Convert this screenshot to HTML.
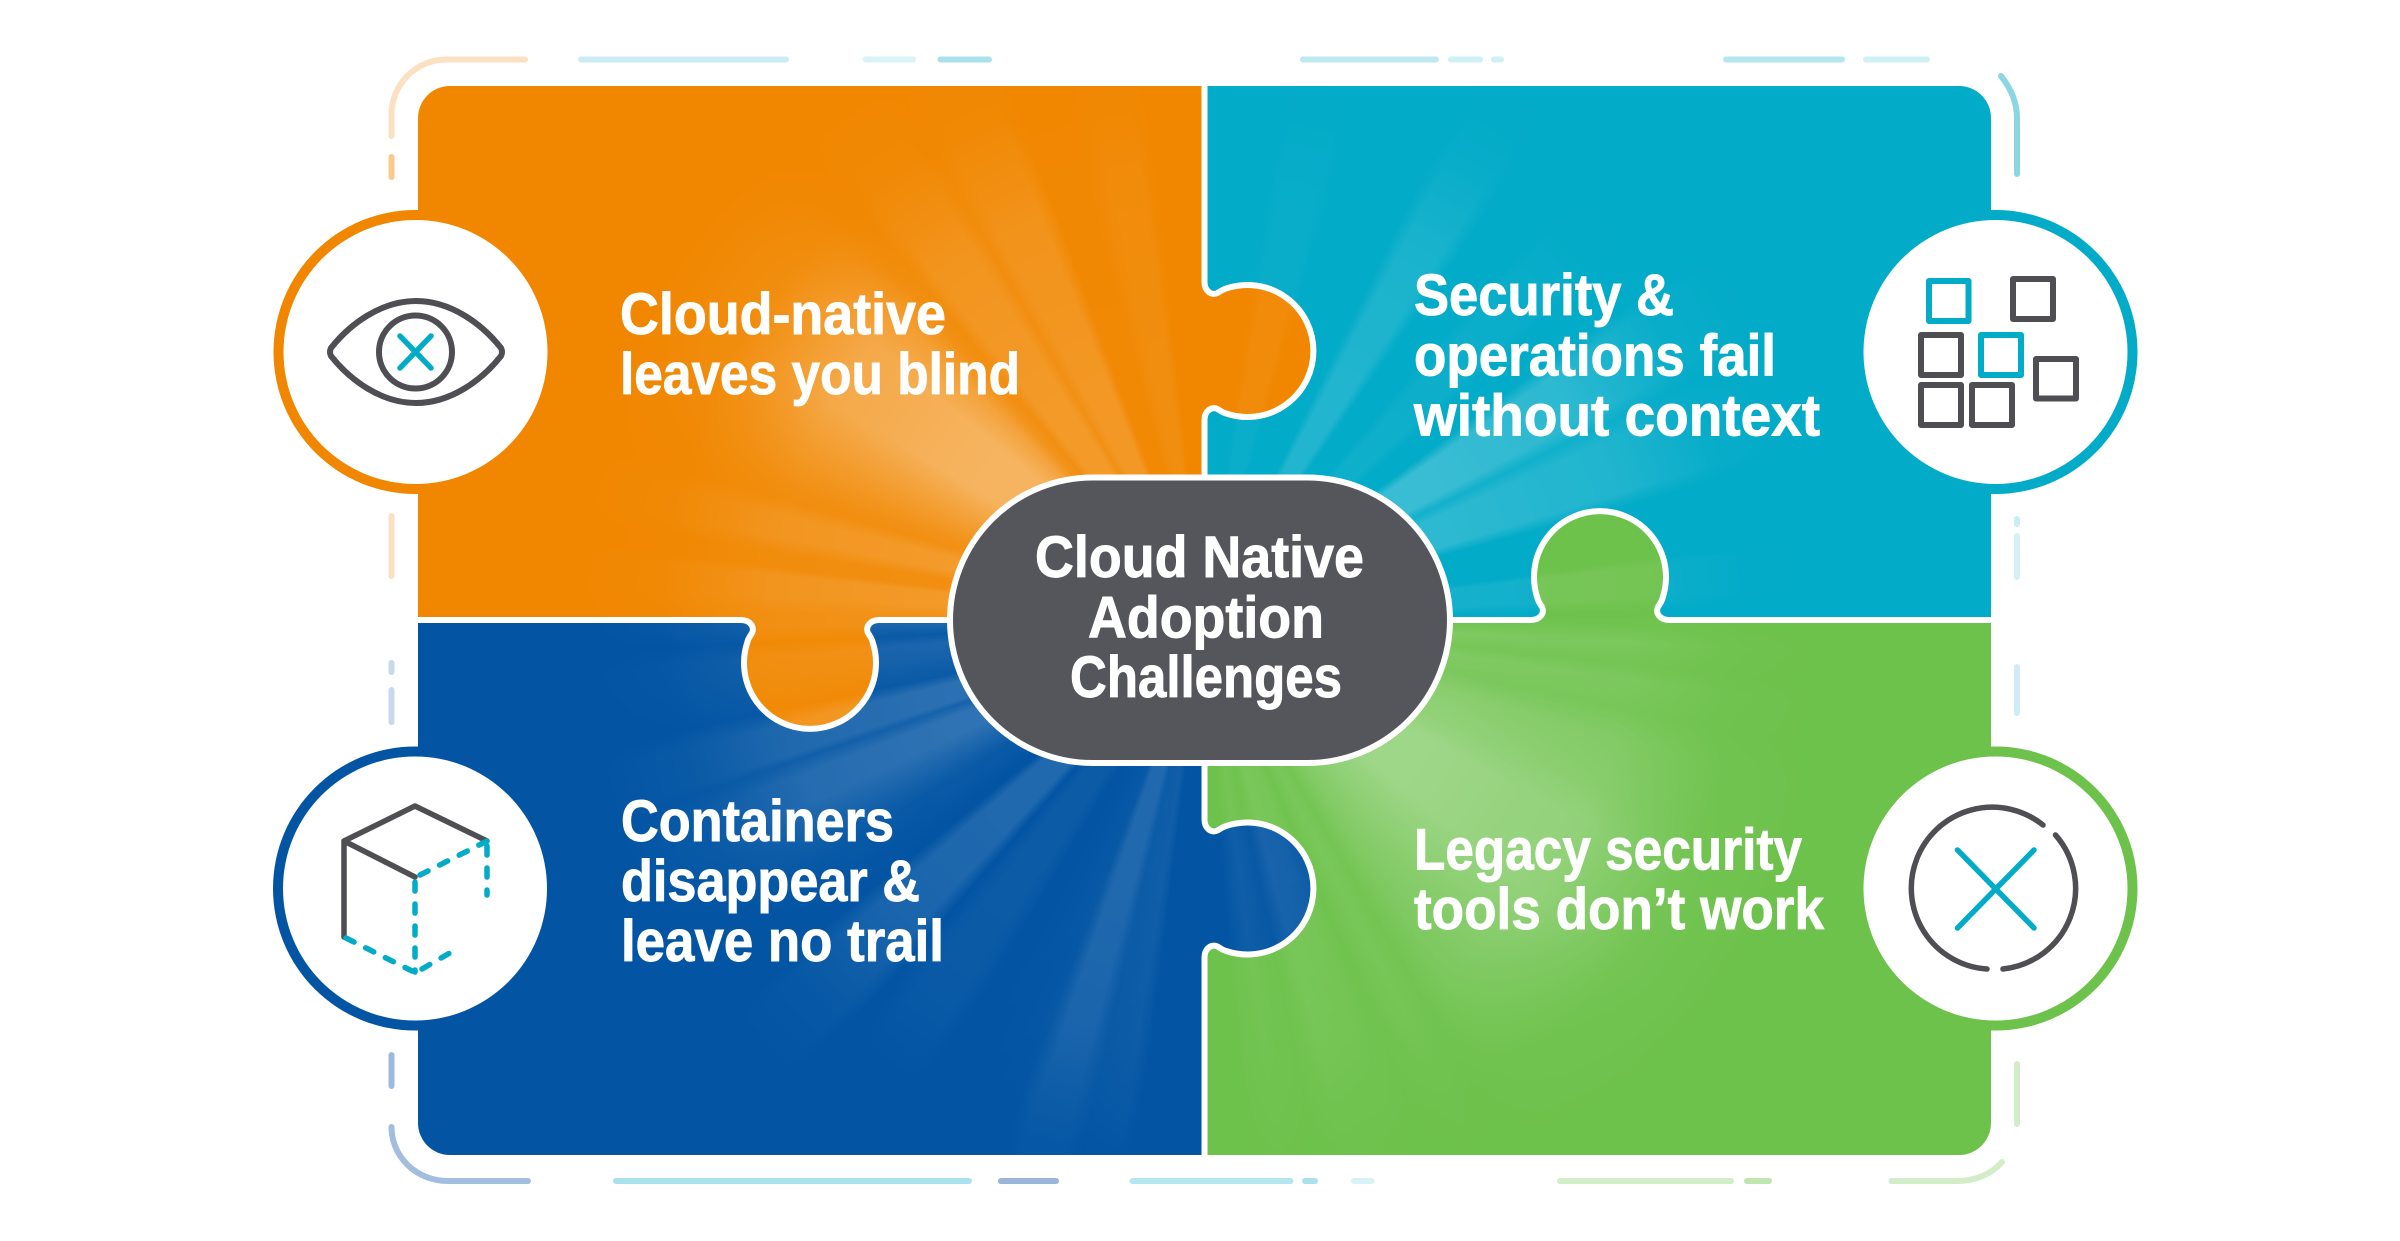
<!DOCTYPE html>
<html lang="en">
<head>
<meta charset="utf-8">
<title>Cloud Native Adoption Challenges</title>
<style>
html,body{margin:0;padding:0;background:#fff;width:2400px;height:1241px;overflow:hidden}
.layer{position:absolute;left:0;top:0;width:2400px;height:1241px}
#rays{
  clip-path:inset(86px 409px 86px 418px);
  background:conic-gradient(from 0deg at 1204px 620px,
    rgba(255,255,255,0) 8deg,rgba(255,255,255,.04) 10deg,rgba(255,255,255,.04) 15deg,rgba(255,255,255,0) 17deg,
    rgba(255,255,255,0) 26deg,rgba(255,255,255,.13) 28deg,rgba(255,255,255,.13) 33deg,rgba(255,255,255,0) 35deg,
    rgba(255,255,255,0) 40deg,rgba(255,255,255,.05) 42deg,rgba(255,255,255,.05) 47deg,rgba(255,255,255,0) 49deg,
    rgba(255,255,255,0) 53deg,rgba(255,255,255,.22) 55deg,rgba(255,255,255,.22) 62deg,rgba(255,255,255,.07) 64deg,rgba(255,255,255,.17) 66deg,rgba(255,255,255,.17) 73deg,rgba(255,255,255,0) 75deg,
    rgba(255,255,255,0) 82deg,rgba(255,255,255,.08) 83deg,rgba(255,255,255,.08) 87deg,rgba(255,255,255,0) 89deg,
    rgba(255,255,255,.05) 91deg,rgba(255,255,255,.13) 93deg,rgba(255,255,255,.07) 96deg,rgba(255,255,255,.14) 98deg,rgba(255,255,255,.1) 102deg,rgba(255,255,255,.2) 106deg,rgba(255,255,255,.26) 113deg,rgba(255,255,255,.34) 118deg,rgba(255,255,255,.34) 130deg,rgba(255,255,255,.24) 138deg,rgba(255,255,255,.14) 146deg,rgba(255,255,255,.05) 150deg,rgba(255,255,255,.09) 153deg,rgba(255,255,255,.03) 157deg,rgba(255,255,255,.07) 160deg,rgba(255,255,255,.09) 165deg,rgba(255,255,255,.02) 168deg,rgba(255,255,255,.06) 172deg,rgba(255,255,255,0) 176deg,
    rgba(255,255,255,0) 187deg,rgba(255,255,255,.06) 189deg,rgba(255,255,255,.04) 193deg,rgba(255,255,255,.12) 195deg,rgba(255,255,255,.12) 199deg,rgba(255,255,255,.02) 201deg,rgba(255,255,255,0) 210deg,rgba(255,255,255,.04) 213deg,rgba(255,255,255,.04) 218deg,rgba(255,255,255,0) 221deg,rgba(255,255,255,.12) 223deg,rgba(255,255,255,.12) 229deg,rgba(255,255,255,0) 231deg,rgba(255,255,255,.03) 238deg,rgba(255,255,255,.18) 245deg,rgba(255,255,255,.18) 249deg,rgba(255,255,255,.08) 251deg,rgba(255,255,255,.16) 252deg,rgba(255,255,255,.16) 256deg,rgba(255,255,255,.03) 258deg,rgba(255,255,255,.08) 262deg,rgba(255,255,255,.1) 265deg,rgba(255,255,255,.03) 267deg,rgba(255,255,255,.1) 269deg,
    rgba(255,255,255,.1) 271deg,rgba(255,255,255,.16) 273deg,rgba(255,255,255,.16) 276deg,rgba(255,255,255,.07) 277deg,rgba(255,255,255,.07) 279deg,rgba(255,255,255,.17) 281deg,rgba(255,255,255,.17) 284deg,rgba(255,255,255,.08) 286deg,rgba(255,255,255,.1) 288deg,rgba(255,255,255,.26) 295deg,rgba(255,255,255,.38) 300deg,rgba(255,255,255,.38) 310deg,rgba(255,255,255,.25) 315deg,rgba(255,255,255,.1) 318deg,rgba(255,255,255,.07) 320deg,rgba(255,255,255,.16) 322deg,rgba(255,255,255,.16) 328deg,rgba(255,255,255,.08) 330deg,rgba(255,255,255,.14) 332deg,rgba(255,255,255,.14) 338deg,rgba(255,255,255,.02) 340deg,rgba(255,255,255,.02) 345deg,rgba(255,255,255,.06) 348deg,rgba(255,255,255,.06) 352deg,rgba(255,255,255,0) 354deg,rgba(255,255,255,0) 360deg);
  -webkit-mask-image:radial-gradient(circle at 1204px 620px,#000 0,#000 260px,rgba(0,0,0,.75) 430px,rgba(0,0,0,.15) 540px,rgba(0,0,0,0) 640px);
  mask-image:radial-gradient(circle at 1204px 620px,#000 0,#000 260px,rgba(0,0,0,.75) 430px,rgba(0,0,0,.15) 540px,rgba(0,0,0,0) 640px);
}
text{font-family:"Liberation Sans",sans-serif;font-weight:700;font-size:58px;fill:#fff;stroke:#fff;stroke-width:.9px}
</style>
</head>
<body>
<svg class="layer" width="2400" height="1241" viewBox="0 0 2400 1241" xmlns="http://www.w3.org/2000/svg">
  <path fill="#F18700" d="M418,621 V118 A32,32 0 0 1 450,86 H1205 V621Z"/>
  <path fill="#02ABC8" d="M1204,86 H1959 A32,32 0 0 1 1991,118 V621 H1204Z"/>
  <path fill="#6DC24B" d="M1204,620 H1991 V1123 A32,32 0 0 1 1959,1155 H1204Z"/>
  <path fill="#0355A4" d="M418,620 H1205 V1155 H450 A32,32 0 0 1 418,1123Z"/>
  <g id="tabfills">
    <path fill="#F18700" transform="translate(1204,351)" d="M0,-69 C0,-60 7,-55 13,-58 C16,-60 19,-62 22,-62.6 A66,66 0 1 1 22,62.6 C19,62 16,60 13,58 C7,55 0,60 0,69 Z"/>
    <path fill="#0355A4" transform="translate(1204,888.5)" d="M0,-69 C0,-60 7,-55 13,-58 C16,-60 19,-62 22,-62.6 A66,66 0 1 1 22,62.6 C19,62 16,60 13,58 C7,55 0,60 0,69 Z"/>
    <path fill="#F18700" transform="translate(810,620) rotate(90)" d="M0,-69 C0,-60 7,-55 13,-58 C16,-60 19,-62 22,-62.6 A66,66 0 1 1 22,62.6 C19,62 16,60 13,58 C7,55 0,60 0,69 Z"/>
    <path fill="#6DC24B" transform="translate(1600,620) rotate(-90)" d="M0,-69 C0,-60 7,-55 13,-58 C16,-60 19,-62 22,-62.6 A66,66 0 1 1 22,62.6 C19,62 16,60 13,58 C7,55 0,60 0,69 Z"/>
  </g>
</svg>

<div class="layer" id="rays"></div>

<svg class="layer" width="2400" height="1241" viewBox="0 0 2400 1241" xmlns="http://www.w3.org/2000/svg">
  <!-- white seams -->
  <g fill="none" stroke="#fff" stroke-width="6">
    <path d="M1204.5,84 V282"/>
    <path d="M1204.5,420 V819.5"/>
    <path d="M1204.5,957.5 V1157"/>
    <path d="M416,620 H741"/>
    <path d="M879,620 H1531"/>
    <path d="M1669,620 H1993"/>
    <path transform="translate(1204.5,351)" d="M0,-69 C0,-60 7,-55 13,-58 C16,-60 19,-62 22,-62.6 A66,66 0 1 1 22,62.6 C19,62 16,60 13,58 C7,55 0,60 0,69"/>
    <path transform="translate(1204.5,888.5)" d="M0,-69 C0,-60 7,-55 13,-58 C16,-60 19,-62 22,-62.6 A66,66 0 1 1 22,62.6 C19,62 16,60 13,58 C7,55 0,60 0,69"/>
    <path transform="translate(810,620) rotate(90)" d="M0,-69 C0,-60 7,-55 13,-58 C16,-60 19,-62 22,-62.6 A66,66 0 1 1 22,62.6 C19,62 16,60 13,58 C7,55 0,60 0,69"/>
    <path transform="translate(1600,620) rotate(-90)" d="M0,-69 C0,-60 7,-55 13,-58 C16,-60 19,-62 22,-62.6 A66,66 0 1 1 22,62.6 C19,62 16,60 13,58 C7,55 0,60 0,69"/>
  </g>

  <!-- dashed frame -->
  <g fill="none" stroke-width="6" stroke-linecap="round">
    <path stroke="#FBE1C2" d="M391.5,136 V115 A55,55 0 0 1 446.5,59.5 H525"/>
    <path stroke="#FBC98B" d="M391.5,157 V177"/>
    <path stroke="#FBE1C2" d="M391.5,516 V576"/>
    <path stroke="#C9EDF3" d="M581,59.5 H786"/>
    <path stroke="#DAF3F7" d="M865.5,59.5 H913"/>
    <path stroke="#A9E2EC" d="M940.5,59.5 H989"/>
    <path stroke="#BFE9F1" d="M1303,59.5 H1436"/>
    <path stroke="#CFF0F5" d="M1451,59.5 H1480"/>
    <path stroke="#CFF0F5" d="M1494,59.5 H1501"/>
    <path stroke="#B3E6EE" d="M1726,59.5 H1842"/>
    <path stroke="#CFF0F5" d="M1866,59.5 H1927"/>
    <path stroke="#8AD6E3" d="M2001,76 Q2017,96 2017,118 V174"/>
    <path stroke="#C9EDF3" d="M2017,519 V524"/>
    <path stroke="#D3F0F5" d="M2017,536 V577"/>
    <path stroke="#CFEBF5" d="M2017,667 V713"/>
    <path stroke="#D3EDC9" d="M2017,1064 V1124"/>
    <path stroke="#C8D9EC" d="M391.5,663 V672"/>
    <path stroke="#C8D9EC" d="M391.5,690 V722"/>
    <path stroke="#9BBBDD" d="M391.5,1055 V1086"/>
    <path stroke="#A3BDDF" d="M391.5,1127 A56,54 0 0 0 447.5,1181 H528"/>
    <path stroke="#A9E2EC" d="M616,1181 H969"/>
    <path stroke="#9BB4DA" d="M1001,1181 H1056"/>
    <path stroke="#B3E6EE" d="M1132.5,1181 H1290.5"/>
    <path stroke="#A9E2EC" d="M1305,1181 H1315"/>
    <path stroke="#D5F2F6" d="M1354,1181 H1371.5"/>
    <path stroke="#D3EDC9" d="M1560,1181 H1731"/>
    <path stroke="#BFE5B1" d="M1747,1181 H1769"/>
    <path stroke="#D3EDC9" d="M1891.5,1181 H1956 Q1985,1181 2002,1162"/>
  </g>

  <!-- icon circles -->
  <circle cx="415.5" cy="352" r="142" fill="#F18700"/>
  <circle cx="415.5" cy="352" r="132" fill="#fff"/>
  <circle cx="1995.5" cy="352" r="142" fill="#02ABC8"/>
  <circle cx="1995.5" cy="352" r="132" fill="#fff"/>
  <circle cx="415" cy="888.5" r="142" fill="#0355A4"/>
  <circle cx="415" cy="888.5" r="132" fill="#fff"/>
  <circle cx="1995.5" cy="888.5" r="142" fill="#6DC24B"/>
  <circle cx="1995.5" cy="888.5" r="132" fill="#fff"/>

  <!-- eye icon -->
  <g fill="none" stroke-linecap="round" stroke-linejoin="round">
    <path stroke="#4E4E53" stroke-width="6" d="M331,348 C350,324 381,301 416,301 C451,301 482,324 501,348 Q503,352 501,356 C482,380 451,403 416,403 C381,403 350,380 331,356 Q329,352 331,348Z"/>
    <circle cx="415.5" cy="352" r="36.5" stroke="#4E4E53" stroke-width="6"/>
    <path stroke="#02ABC8" stroke-width="5.5" d="M400,336 L431,368 M431,336 L400,368"/>
  </g>

  <!-- squares icon -->
  <g fill="none" stroke-width="6" stroke-linejoin="round">
    <rect x="1929" y="281" width="39.500" height="40" stroke="#02ABC8"/>
    <rect x="2013" y="279" width="40" height="40" stroke="#4E4E53"/>
    <rect x="1921" y="335" width="40" height="40" stroke="#4E4E53"/>
    <rect x="1981" y="335" width="40" height="40" stroke="#02ABC8"/>
    <rect x="2036" y="359" width="40" height="39.500" stroke="#4E4E53"/>
    <rect x="1921" y="385" width="40" height="40" stroke="#4E4E53"/>
    <rect x="1972" y="385" width="40" height="40" stroke="#4E4E53"/>
  </g>

  <!-- cube icon -->
  <g fill="none" stroke-linecap="round" stroke-linejoin="round">
    <path stroke="#4E4E53" stroke-width="5.5" d="M344,937 V841 L415,806 L487,841 M344,841 L415,877"/>
    <g stroke="#02ABC8" stroke-width="5.5" stroke-dasharray="9 13">
      <path d="M420,875 L487,841"/>
      <path d="M487,846 V895"/>
      <path d="M415,882 V972"/>
      <path d="M346,938 L412,971"/>
      <path d="M422,969 L455,950"/>
    </g>
  </g>

  <!-- broken circle X icon -->
  <g fill="none" stroke-linecap="round">
    <path stroke="#4E4E53" stroke-width="5.5" d="M2043,825 A81,81 0 1 0 1987,969"/>
    <path stroke="#4E4E53" stroke-width="5.5" d="M2055.500,835 A81,81 0 0 1 2003,969"/>
    <path stroke="#02ABC8" stroke-width="5.5" d="M1957.500,850 L2034,928 M2034,850 L1957.500,928"/>
  </g>

  <!-- center pill -->
  <rect x="950" y="477.500" width="500" height="285.500" rx="142.750" ry="142.750" fill="#55565B" stroke="#fff" stroke-width="6"/>

  <!-- labels -->
  <text x="620" y="334" textLength="326" lengthAdjust="spacingAndGlyphs">Cloud-native</text>
  <text x="620" y="394" textLength="400" lengthAdjust="spacingAndGlyphs">leaves you blind</text>

  <text x="1414" y="315" textLength="260" lengthAdjust="spacingAndGlyphs">Security &amp;</text>
  <text x="1414" y="375.500" textLength="362" lengthAdjust="spacingAndGlyphs">operations fail</text>
  <text x="1414" y="435.500" textLength="406" lengthAdjust="spacingAndGlyphs">without context</text>

  <text x="621" y="841" textLength="273" lengthAdjust="spacingAndGlyphs">Containers</text>
  <text x="621" y="901" textLength="299" lengthAdjust="spacingAndGlyphs">disappear &amp;</text>
  <text x="621" y="961" textLength="323" lengthAdjust="spacingAndGlyphs">leave no trail</text>

  <text x="1414" y="869.500" textLength="388" lengthAdjust="spacingAndGlyphs">Legacy security</text>
  <text x="1414" y="929" textLength="410" lengthAdjust="spacingAndGlyphs">tools don’t work</text>

  <text x="1035" y="577" textLength="329" lengthAdjust="spacingAndGlyphs">Cloud Native</text>
  <text x="1088" y="637.500" textLength="236" lengthAdjust="spacingAndGlyphs">Adoption</text>
  <text x="1070" y="697" textLength="272" lengthAdjust="spacingAndGlyphs">Challenges</text>
</svg>
</body>
</html>
